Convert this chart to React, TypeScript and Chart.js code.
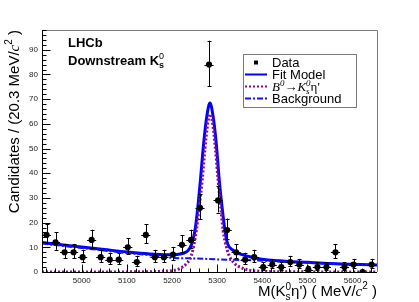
import { useEffect, useRef } from "react";
import { Chart, registerables } from "chart.js";

Chart.register(...registerables);

// ---- data ----
const binCenters = [
  4922, 4942, 4962, 4982, 5002, 5022, 5042, 5062, 5082, 5102, 5122, 5142, 5162,
  5182, 5202, 5222, 5242, 5262, 5282, 5302, 5322, 5342, 5362, 5382, 5402, 5422,
  5442, 5462, 5482, 5502, 5522, 5542, 5562, 5582, 5602, 5622, 5642,
];
const candidates = [
  15, 12, 8, 8, 6, 13, 6, 5, 5, 10, 4, 15, 6, 6, 7, 11, 13, 26, 84, 29, 17, 8, 5,
  6, 2, 3, 2, 4, 3, 1, 2, 2, 8, 2, 3, 0, 3,
];
const halfBin = 10.15;

const fitMass = [
  4912, 4950, 5000, 5050, 5100, 5150, 5190, 5210, 5225, 5235, 5243, 5251, 5257,
  5263, 5270, 5277, 5284, 5291, 5298, 5304.5, 5311, 5317, 5323, 5335, 5350, 5372,
  5395, 5450, 5500, 5550, 5600, 5654,
];
const fitValues = [
  11.9, 11.1, 10.1, 9.1, 8.1, 7.3, 7.0, 7.1, 7.6, 8.6, 11, 17, 26, 37.4, 52, 63,
  68.4, 63, 52, 37.4, 26, 17, 11.5, 8.8, 7.3, 6.2, 5.3, 4.4, 3.9, 3.4, 3.1, 2.8,
];

const sigMass = [
  4912, 5150, 5190, 5203, 5217, 5232, 5243, 5254, 5260, 5267, 5273, 5279, 5284,
  5290, 5296, 5302, 5308, 5313, 5322, 5328, 5340, 5350, 5372, 5400, 5450, 5654,
];
const sigValues = [
  0, 0.1, 0.4, 0.6, 1.4, 3.4, 6.8, 17, 26, 37.4, 50, 60, 63.9, 60, 50, 37.4, 26, 17,
  9, 6.1, 3.2, 2, 0.7, 0.3, 0.1, 0,
];

const bkgMass = [
  4912, 5000, 5100, 5150, 5200, 5250, 5300, 5350, 5390, 5450, 5500, 5550, 5600, 5654,
];
const bkgValues = [
  11.5, 9.7, 7.7, 6.8, 5.7, 5.5, 5.1, 4.9, 4.7, 4.1, 3.7, 3.3, 3.0, 2.7,
];

const xMin = 4912;
const xMax = 5654;
const yMin = 0;
const yMax = 98;
const xMajorStep = 100;
const xMinorStep = 20;
const yMajorStep = 10;
const yMinorStep = 2;

const legendLabels = ["Data", "Fit Model", "B0 -> K0s eta'", "Background"];

const SANS = "'Liberation Sans', Arial, sans-serif";
const SERIF = "'Liberation Serif', 'Times New Roman', serif";

type Piece = { t: string; f: string; dy?: number };
type Run = Piece | { sup: Piece; sub: Piece };

function pieceWidth(ctx: CanvasRenderingContext2D, p: Piece) {
  ctx.font = p.f;
  return ctx.measureText(p.t).width;
}
function runsWidth(ctx: CanvasRenderingContext2D, runs: Run[]) {
  let w = 0;
  for (const r of runs) {
    if ("sup" in r) w += Math.max(pieceWidth(ctx, r.sup), pieceWidth(ctx, r.sub));
    else w += pieceWidth(ctx, r);
  }
  return w;
}
function drawRuns(ctx: CanvasRenderingContext2D, runs: Run[], x: number, y: number) {
  ctx.textAlign = "left";
  ctx.textBaseline = "alphabetic";
  for (const r of runs) {
    if ("sup" in r) {
      const w1 = pieceWidth(ctx, r.sup);
      const w2 = pieceWidth(ctx, r.sub);
      ctx.font = r.sup.f;
      ctx.fillText(r.sup.t, x, y + (r.sup.dy || 0));
      ctx.font = r.sub.f;
      ctx.fillText(r.sub.t, x, y + (r.sub.dy || 0));
      x += Math.max(w1, w2);
    } else {
      ctx.font = r.f;
      ctx.fillText(r.t, x, y + (r.dy || 0));
      x += ctx.measureText(r.t).width;
    }
  }
}

const decorPlugin = {
  id: "decor",
  afterDatasetsDraw(chart: any) {
    const ctx: CanvasRenderingContext2D = chart.ctx;
    const xs = chart.scales.x;
    const ys = chart.scales.y;
    ctx.save();
    ctx.strokeStyle = "#000";
    ctx.lineWidth = 1;
    ctx.beginPath();
    for (let i = 0; i < binCenters.length; i++) {
      const n = candidates[i];
      const s = Math.sqrt(n + 0.25);
      const up = n + s + 0.5;
      const dn = Math.max(0, n - s + 0.5);
      const px = Math.round(xs.getPixelForValue(binCenters[i])) + 0.5;
      const py = ys.getPixelForValue(n);
      const pu = ys.getPixelForValue(up);
      const pd = ys.getPixelForValue(dn);
      ctx.moveTo(px, pu);
      ctx.lineTo(px, pd);
      ctx.moveTo(px - 2, Math.round(pu) + 0.5);
      ctx.lineTo(px + 2, Math.round(pu) + 0.5);
      if (n > 0) {
        ctx.moveTo(px - 2, Math.round(pd) + 0.5);
        ctx.lineTo(px + 2, Math.round(pd) + 0.5);
      }
      const pl = xs.getPixelForValue(binCenters[i] - halfBin);
      const pr = xs.getPixelForValue(binCenters[i] + halfBin);
      const yy = Math.round(py) + 0.5;
      ctx.moveTo(pl, yy);
      ctx.lineTo(pr, yy);
    }
    ctx.stroke();
    ctx.restore();
  },
  afterDraw(chart: any) {
    const ctx: CanvasRenderingContext2D = chart.ctx;
    const { left, right, top, bottom } = chart.chartArea;
    const xs = chart.scales.x;
    const ys = chart.scales.y;
    ctx.save();
    // frame
    ctx.lineWidth = 1;
    ctx.strokeStyle = "#7a7a7a";
    ctx.beginPath();
    ctx.moveTo(left, Math.round(top) + 0.5);
    ctx.lineTo(Math.round(right) + 0.5, Math.round(top) + 0.5);
    ctx.lineTo(Math.round(right) + 0.5, bottom);
    ctx.stroke();
    // axes
    ctx.strokeStyle = "#000";
    ctx.beginPath();
    const ax = Math.round(left) + 0.5;
    const ay = Math.round(bottom) + 0.5;
    ctx.moveTo(ax, top);
    ctx.lineTo(ax, ay);
    ctx.lineTo(right, ay);
    // y ticks
    for (let v = yMin; v <= yMax + 1e-6; v += yMinorStep) {
      const y = Math.round(ys.getPixelForValue(v)) + 0.5;
      const len = v % yMajorStep === 0 ? 8 : 4;
      ctx.moveTo(ax, y);
      ctx.lineTo(ax + len, y);
    }
    // x ticks
    const x0 = Math.ceil(xMin / xMinorStep) * xMinorStep;
    for (let v = x0; v <= xMax; v += xMinorStep) {
      const x = Math.round(xs.getPixelForValue(v)) + 0.5;
      const len = v % xMajorStep === 0 ? 8 : 4;
      ctx.moveTo(x, ay);
      ctx.lineTo(x, ay - len);
    }
    ctx.stroke();

    ctx.fillStyle = "#000";
    // LHCb label
    drawRuns(ctx, [{ t: "LHCb", f: `bold 13px ${SANS}` }], 68, 47);
    drawRuns(
      ctx,
      [
        { t: "Downstream K", f: `bold 13px ${SANS}` },
        { sup: { t: "0", f: `9px ${SANS}`, dy: -6 }, sub: { t: "s", f: `bold 9px ${SANS}`, dy: 3 } },
      ],
      68,
      65
    );

    // y axis title
    const yRuns: Run[] = [
      { t: "Candidates / (20.3 MeV/", f: `15px ${SANS}` },
      { t: "c", f: `italic 15px ${SERIF}` },
      { t: "2", f: `10px ${SANS}`, dy: -7 },
      { t: " )", f: `15px ${SANS}` },
    ];
    const yw = runsWidth(ctx, yRuns);
    ctx.save();
    ctx.translate(19, 30 + yw);
    ctx.rotate(-Math.PI / 2);
    drawRuns(ctx, yRuns, 0, 0);
    ctx.restore();

    // x axis title
    const xRuns: Run[] = [
      { t: "M(K", f: `15px ${SANS}` },
      { sup: { t: "0", f: `10px ${SANS}`, dy: -6 }, sub: { t: "s", f: `10px ${SANS}`, dy: 4 } },
      { t: "η') ( MeV/", f: `15px ${SANS}` },
      { t: "c", f: `italic 15px ${SERIF}` },
      { t: "2", f: `10px ${SANS}`, dy: -7 },
      { t: " )", f: `15px ${SANS}` },
    ];
    const xw = runsWidth(ctx, xRuns);
    drawRuns(ctx, xRuns, right - xw, 295.5);

    // legend
    const lx0 = 243, ly0 = 54, lx1 = 356, ly1 = 107;
    ctx.fillStyle = "#fff";
    ctx.fillRect(lx0, ly0, lx1 - lx0, ly1 - ly0);
    ctx.strokeStyle = "#7a7a7a";
    ctx.lineWidth = 1;
    ctx.strokeRect(lx0 + 0.5, ly0 + 0.5, lx1 - lx0, ly1 - ly0);
    const rows = [62.5, 74.5, 86.5, 98.5];
    const ds = chart.data.datasets;
    // data marker
    ctx.fillStyle = "#000";
    ctx.fillRect(254, rows[0] - 2, 4, 4);
    const lines = [ds[3], ds[1], ds[2]];
    for (let k = 0; k < 3; k++) {
      const d = lines[k];
      ctx.strokeStyle = d.borderColor;
      ctx.lineWidth = 2;
      ctx.setLineDash(d.borderDash || []);
      ctx.beginPath();
      ctx.moveTo(245, rows[k + 1]);
      ctx.lineTo(267, rows[k + 1]);
      ctx.stroke();
    }
    ctx.setLineDash([]);
    ctx.fillStyle = "#000";
    const tx = 272;
    drawRuns(ctx, [{ t: "Data", f: `13px ${SANS}` }], tx, rows[0] + 4.5);
    drawRuns(ctx, [{ t: "Fit Model", f: `13px ${SANS}` }], tx, rows[1] + 4.5);
    drawRuns(
      ctx,
      [
        { t: "B", f: `italic 13px ${SERIF}` },
        { t: "0", f: `italic 9px ${SERIF}`, dy: -5 },
        { t: "→", f: `13px ${SERIF}` },
        { t: "K", f: `italic 13px ${SERIF}` },
        { sup: { t: "0", f: `italic 9px ${SERIF}`, dy: -5 }, sub: { t: "s", f: `italic 9px ${SERIF}`, dy: 3 } },
        { t: "η'", f: `13px ${SERIF}` },
      ],
      tx,
      rows[2] + 4.5
    );
    drawRuns(ctx, [{ t: "Background", f: `13px ${SANS}` }], tx, rows[3] + 4.5);
    ctx.restore();
  },
};

function pts(xsArr: number[], ysArr: number[]) {
  return xsArr.map((x, i) => ({ x, y: ysArr[i] }));
}

export default function App() {
  const ref = useRef<HTMLCanvasElement | null>(null);
  useEffect(() => {
    if (!ref.current) return;
    const chart = new Chart(ref.current, {
      type: "line",
      data: {
        datasets: [
          {
            label: legendLabels[0],
            data: pts(binCenters, candidates),
            showLine: false,
            pointRadius: 3.1,
            pointBackgroundColor: "#000",
            pointBorderColor: "#000",
            pointBorderWidth: 0,
            borderColor: "#000",
          } as any,
          {
            label: legendLabels[2],
            data: pts(sigMass, sigValues),
            borderColor: "#8a0a8a",
            borderWidth: 3,
            borderDash: [2, 2],
            pointRadius: 0,
            cubicInterpolationMode: "monotone",
            fill: false,
          },
          {
            label: legendLabels[3],
            data: pts(bkgMass, bkgValues),
            borderColor: "#1010ff",
            borderWidth: 2,
            borderDash: [6, 2, 2, 2],
            pointRadius: 0,
            cubicInterpolationMode: "monotone",
            fill: false,
          },
          {
            label: legendLabels[1],
            data: pts(fitMass, fitValues),
            borderColor: "#0000ff",
            borderWidth: 3,
            pointRadius: 0,
            cubicInterpolationMode: "monotone",
            fill: false,
          },
        ],
      },
      options: {
        animation: false,
        responsive: false,
        events: [],
        layout: { padding: { top: 30, right: 42, left: 0, bottom: 0 } },
        plugins: { legend: { display: false }, tooltip: { enabled: false } },
        scales: {
          x: {
            type: "linear",
            min: xMin,
            max: xMax,
            grid: { display: false, drawTicks: false },
            border: { display: false },
            ticks: {
              stepSize: xMajorStep,
              includeBounds: false,
              padding: 4,
              maxRotation: 0,
              autoSkip: false,
              color: "#222",
              font: { family: "'Liberation Sans', Arial, sans-serif", size: 8 },
              callback: (v: any) => String(v),
            },
            afterFit: (s: any) => {
              s.height = 30;
            },
          },
          y: {
            type: "linear",
            min: yMin,
            max: yMax,
            grid: { display: false, drawTicks: false },
            border: { display: false },
            ticks: {
              stepSize: yMajorStep,
              includeBounds: false,
              padding: 4,
              color: "#222",
              font: { family: "'Liberation Sans', Arial, sans-serif", size: 8 },
              callback: (v: any) => String(v),
            },
            afterFit: (s: any) => {
              s.width = 42;
            },
          },
        },
      },
      plugins: [decorPlugin],
    });
    return () => chart.destroy();
  }, []);
  return (
    <div style={{ position: "absolute", left: 0, top: 0, width: 419, height: 302, background: "#fff" }}>
      <canvas ref={ref} width={419} height={302} style={{ display: "block", width: 419, height: 302 }} />
    </div>
  );
}
